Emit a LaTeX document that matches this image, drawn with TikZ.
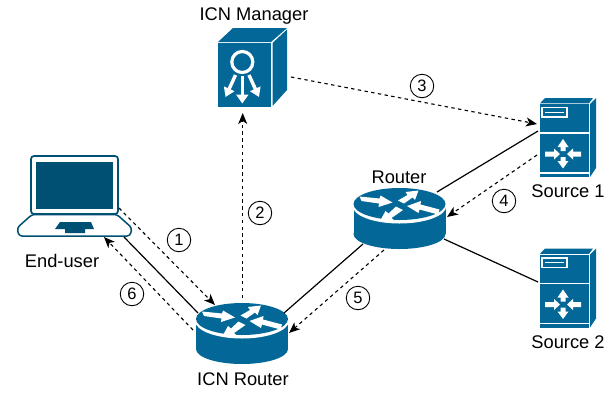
\documentclass[tikz,border=0pt]{standalone}
\usepackage{fontspec}
\setmainfont{Liberation Sans}
\usetikzlibrary{arrows.meta}
\definecolor{ciscoblue}{HTML}{036897}
\definecolor{laptopblue}{HTML}{005073}
\tikzset{
  anchorbox/.style={inner sep=0pt,minimum width=#1,minimum height=#1},
  lbl/.style={font=\fontsize{18.3}{20}\selectfont,inner sep=0pt,text=black},
  solidlink/.style={draw=black,line width=1.2pt},
  dashlink/.style={draw=black,line width=1.1pt,dash pattern=on 3.4pt off 3.4pt,-{Stealth[length=11pt,width=9pt,inset=3pt]}},
  numc/.style={circle,draw=black,line width=0.9pt,minimum size=23.5pt,inner sep=0pt,font=\fontsize{16.5}{18}\selectfont,fill=white},
  pics/routericon/.style={code={
    \fill[ciscoblue] (-46,0) rectangle (46,30);
    \fill[ciscoblue] (0,30) ellipse[x radius=46,y radius=15];
    \fill[white] (0,2) ellipse[x radius=46.8,y radius=17.5];
    \fill[ciscoblue] (0,0) ellipse[x radius=46,y radius=16];
    \fill[white] (-40,-7.5) -- (-20,-5.5) -- (-19,-8.5) -- (-7,-1.5) -- (-21,3) -- (-20.5,-0.5) -- (-38,-3) -- cycle;
    \fill[white] (-1.5,-3.5) -- (8,-9) -- (6,-12) -- (19,-13.5) -- (15.5,-4) -- (13,-6.5) -- (4.5,-0.5) -- cycle;
    \fill[white] (40,5.5) -- (21,0.5) -- (21.5,-3) -- (7.5,2) -- (19,9) -- (20,5.5) -- (38.5,10.5) -- cycle;
    \fill[white] (-3.5,2.5) -- (3.5,6) -- (-8,14) -- (-5,16.5) -- (-19.5,17) -- (-14,7) -- (-11,9.5) -- cycle;
  }},
  pics/servericon/.style={code={
    \fill[ciscoblue] (0,-0.7) -- (5,-6) -- (53,-6) -- (49,-0.7) -- cycle;
    \fill[ciscoblue] (50,0) -- (56,-6) -- (56,64) -- (50,73) -- cycle;
    \fill[ciscoblue] (0,0) rectangle (49,73);
    \draw[white,line width=1.2pt] (0,29) -- (49,29);
    \draw[white,line width=1.2pt] (0,69) -- (49,69);
    \draw[white,line width=1.3pt] (2,3.5) rectangle (27,13);
    \draw[white,line width=1pt] (5,8.2) -- (24,8.2);
    \begin{scope}[shift={(23,50)}]
      \fill[white] (-18,-2.5) -- (-9,-2.5) -- (-9,-5.5) -- (-3,0) -- (-9,5.5) -- (-9,2.5) -- (-18,2.5) -- cycle;
      \fill[white] (18,-2.5) -- (10,-2.5) -- (10,-5.5) -- (4,0) -- (10,5.5) -- (10,2.5) -- (18,2.5) -- cycle;
      \fill[white] (-2.5,-3) -- (-2.5,-7) -- (-5.5,-7) -- (0,-15) -- (5.5,-7) -- (2.5,-7) -- (2.5,-3) -- cycle;
      \fill[white] (-2.5,3) -- (-2.5,7) -- (-5.5,7) -- (0,14.5) -- (5.5,7) -- (2.5,7) -- (2.5,3) -- cycle;
    \end{scope}
  }},
}
\begin{document}
\begin{tikzpicture}[x=1pt,y=-1pt]
\useasboundingbox (0,0) rectangle (615,394);

% anchor nodes for icons
\node[anchorbox=10pt] (mgr) at (252,68) {};
\node[anchorbox=10pt] (lap) at (75,196) {};
\node[anchorbox=10pt] (icn) at (242,335) {};
\node[anchorbox=10pt] (rtr) at (399,218) {};
\node[anchorbox=10pt] (src1) at (568,140) {};
\node[anchorbox=10pt] (src2) at (568,285) {};

% ICN Manager
\fill[ciscoblue] (218,42) -- (233,28) -- (287,28) -- (271,42) -- cycle;
\fill[ciscoblue] (272.5,43) -- (287,29.5) -- (287,90) -- (272.5,106) -- cycle;
\fill[ciscoblue] (218,43) rectangle (270.5,107);
\draw[white,line width=3.2pt] (242.3,62) circle[radius=10.5];
\draw[white,line width=3.4pt,-{Triangle[length=9pt,width=11pt]}] (235.5,75) -- (225.5,97);
\draw[white,line width=3.4pt,-{Triangle[length=9pt,width=12pt]}] (242.3,76) -- (242.3,103.5);
\draw[white,line width=3.4pt,-{Triangle[length=9pt,width=11pt]}] (249,75) -- (259,97);

% Laptop
\draw[laptopblue,line width=1.7pt,fill=white,rounded corners=3pt] (31,214) -- (31,156) -- (118,156) -- (118,214) -- cycle;
\fill[laptopblue] (36,162) rectangle (113,209);
\draw[laptopblue,line width=1.5pt,fill=white,line join=round,rounded corners=3pt] (32,214.5) -- (17,228) -- (19,236) -- (130,236) -- (132,228) -- (117,214.5) -- cycle;
\fill[laptopblue] (55,229) -- (60,222) -- (91,222) -- (94,229) -- (85,229) -- (85,233) -- (65,233) -- (65,229) -- cycle;

% Routers
\pic at (242,319) {routericon};
\pic at (399.5,204) {routericon};

% Servers
\pic at (540,104) {servericon};
\pic at (540,254.5) {servericon};

% Connectors
\path[solidlink] ([shift={(49,41)}]lap.center) -- ([shift={(-44,-22)}]icn.center);
\path[dashlink] ([shift={(44,12)}]lap.center) -- ([shift={(-27,-30)}]icn.center);
\path[dashlink] ([shift={(-49,-5)}]icn.center) -- ([shift={(29,41)}]lap.center);
\path[dashlink] ([shift={(0.7,-37)}]icn.center) -- ([shift={(-9.3,45)}]mgr.center);
\path[dashlink] ([shift={(39,9)}]mgr.center) -- ([shift={(-31,-16)}]src1.center);
\path[solidlink] ([shift={(42,-22)}]icn.center) -- ([shift={(-36,26)}]rtr.center);
\path[dashlink] ([shift={(-15,32)}]rtr.center) -- ([shift={(47,-2)}]icn.center);
\path[solidlink] ([shift={(38,-26)}]rtr.center) -- ([shift={(-30,-9)}]src1.center);
\path[dashlink] ([shift={(-31,15)}]src1.center) -- ([shift={(48,-1)}]rtr.center);
\path[solidlink] ([shift={(45,21)}]rtr.center) -- ([shift={(-30,-3)}]src2.center);

% Numbers
\node[numc] (n1) at (179,240) {1};
\node[numc] (n2) at (260,213) {2};
\node[numc] (n3) at (422,86) {3};
\node[numc] (n4) at (504,201) {4};
\node[numc] (n5) at (358,298) {5};
\node[numc] (n6) at (132,294) {6};

% Labels
\node[lbl] (l1) at (254,16) {ICN Manager};
\node[lbl] (l2) at (62,261) {End-user};
\node[lbl] (l3) at (399,177) {Router};
\node[lbl] (l4) at (243,379) {ICN Router};
\node[lbl] (l5) at (568,191) {Source 1};
\node[lbl] (l6) at (568,342) {Source 2};
\end{tikzpicture}
\end{document}
